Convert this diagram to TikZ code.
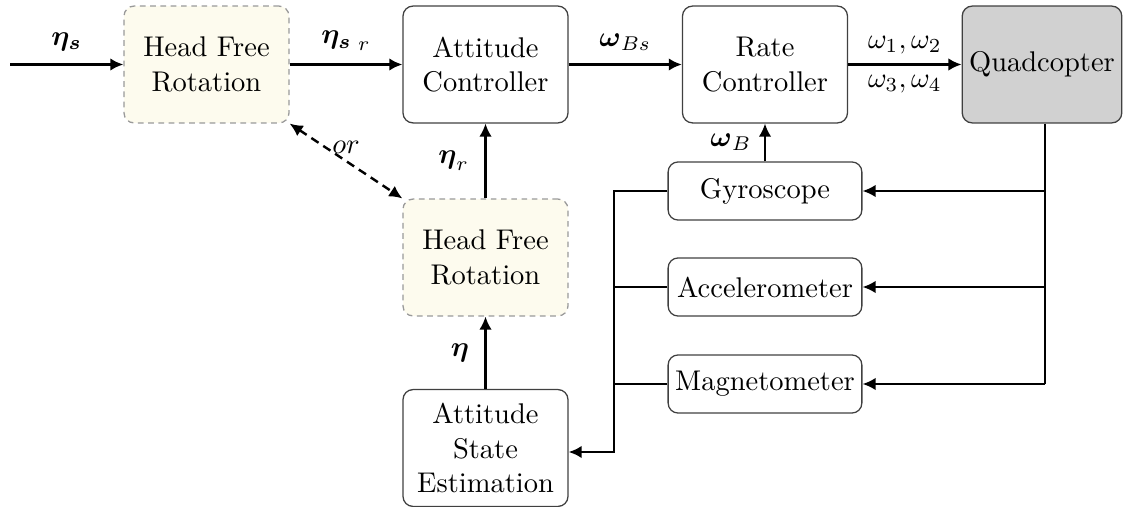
\documentclass[tikz,border=0pt]{standalone}
\usepackage{amsmath}
\usetikzlibrary{arrows.meta}
\begin{document}
\begin{tikzpicture}[x=0.351pt,y=-0.351pt,
  blk/.style={draw=black!75, line width=0.45pt, rounded corners=3.5pt, minimum width=57.9pt, minimum height=41pt, align=center, inner sep=1pt},
  hfr/.style={blk, draw=black!40, dash pattern=on 2pt off 1.6pt, fill={rgb,255:red,253;green,251;blue,238}},
  sens/.style={draw=black!75, line width=0.45pt, rounded corners=3.5pt, minimum width=68pt, minimum height=20.4pt, inner sep=1pt},
  con/.style={line width=0.85pt, -{Latex[length=4.6pt,width=4.4pt]}},
  wire/.style={line width=0.85pt},
  dcon/.style={line width=0.85pt, dash pattern=on 3pt off 2pt, {Latex[length=4.6pt,width=4.4pt]}-{Latex[length=4.6pt,width=4.4pt]}}]
\useasboundingbox (0,0) rectangle (1124,507);

\node[hfr] (hfr1) at (206.5,64.5) {Head Free\\Rotation};
\node[blk] (ac) at (485.5,64.5) {Attitude\\Controller};
\node[blk] (rc) at (765,64.5) {Rate\\Controller};
\node[blk, fill=black!18, minimum width=56pt] (q) at (1042,64.5) {Quadcopter};
\node[hfr] (hfr2) at (485.5,257.5) {Head Free\\Rotation};
\node[blk] (ase) at (485.5,448) {Attitude\\State\\Estimation};
\node[sens] (gyro) at (765,191) {Gyroscope};
\node[sens] (acc) at (765,287) {Accelerometer};
\node[sens] (mag) at (765,384) {Magnetometer};

\coordinate (in) at (10,64.5);
\coordinate (bt) at (614,191);
\coordinate (bb) at (614,452);
\coordinate (rb) at (1045,384);

\draw[con] (in) -- node[above=1pt]{$\boldsymbol{\eta_s}$} (hfr1);
\draw[con] (hfr1) -- node[above=1pt]{$\boldsymbol{\eta_s}_{\;r}$} (ac);
\draw[con] (ac) -- node[above=1pt]{$\boldsymbol{\omega}_{Bs}$} (rc);
\draw[con] (rc) -- node[above=0pt]{$\omega_1,\omega_2$} node[below=0pt]{$\omega_3,\omega_4$} (q);
\draw[con] (hfr2) -- node[left=2pt]{$\boldsymbol{\eta}_r$} (ac);
\draw[con] (ase) -- node[left=2pt]{$\boldsymbol{\eta}$} (hfr2);
\draw[con] (gyro) -- node[left=1pt]{$\boldsymbol{\omega}_B$} (rc);
\draw[dcon] (hfr1.south east) -- node[above=-1pt]{$or$} (hfr2.north west);

\draw[con] (gyro.west) -- (bt) -- (bb) -- (bb -| ase.east);
\draw[wire] (acc.west) -- (acc.west -| bt);
\draw[wire] (mag.west) -- (mag.west -| bt);

\draw[wire] (q.south -| rb) -- (rb);
\draw[con] (gyro.east -| rb) -- (gyro.east);
\draw[con] (acc.east -| rb) -- (acc.east);
\draw[con] (rb) -- (mag.east);
\end{tikzpicture}
\end{document}
